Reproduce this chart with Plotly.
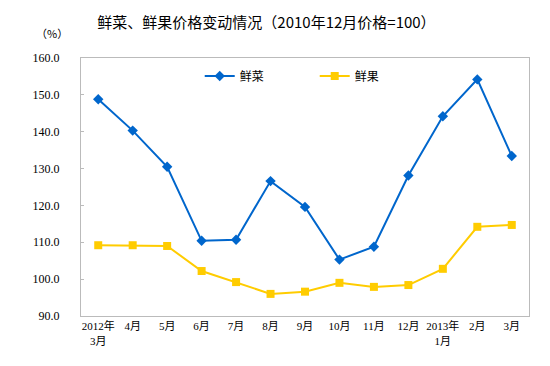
import plotly.graph_objects as go

categories = ["2012年<br>3月", "4月", "5月", "6月", "7月", "8月", "9月", "10月",
              "11月", "12月", "2013年<br>1月", "2月", "3月"]
vegetables = [148.8, 140.3, 130.5, 110.4, 110.7, 126.6, 119.6, 105.3, 108.8,
              128.1, 144.2, 154.2, 133.4]
fruits = [109.2, 109.2, 109.0, 102.2, 99.2, 96.0, 96.6, 99.0, 97.9, 98.4,
          102.8, 114.2, 114.7]
yticks = [90, 100, 110, 120, 130, 140, 150, 160]

font_family = "Liberation Serif, Noto Sans CJK SC, serif"

fig = go.Figure()
fig.add_trace(go.Scatter(
    x=categories, y=vegetables, name="鲜菜", mode="lines+markers",
    line=dict(color="#0066CC", width=2),
    marker=dict(symbol="diamond", size=8, color="#0066CC")))
fig.add_trace(go.Scatter(
    x=categories, y=fruits, name="鲜果", mode="lines+markers",
    line=dict(color="#FFCC00", width=2),
    marker=dict(symbol="square", size=8, color="#FFCC00")))

fig.update_layout(
    width=550, height=366,
    margin=dict(l=73, r=29, t=50, b=58),
    paper_bgcolor="white", plot_bgcolor="white",
    font=dict(family=font_family, size=11, color="black"),
    title=dict(text="鲜菜、鲜果价格变动情况（2010年12月价格=100）",
               x=0.47, xanchor="center", y=0.96, yanchor="middle",
               font=dict(family="Noto Sans CJK SC, sans-serif", size=15, color="black")),
    legend=dict(orientation="h", x=0.265, y=0.93, xanchor="left", yanchor="middle",
                bgcolor="rgba(0,0,0,0)", font=dict(family="Noto Sans CJK SC", size=12),
                entrywidth=70, entrywidthmode="pixels"),
    showlegend=True,
)
fig.update_xaxes(
    type="category", showgrid=False, showline=True, linecolor="#BBBBBB",
    linewidth=1, mirror=True, ticks="", tickfont=dict(size=11),
    range=[-0.5, len(categories) - 0.5])
fig.update_yaxes(
    range=[90, 160], tickvals=yticks, tickformat=".1f", showgrid=False,
    showline=True, linecolor="#BBBBBB", linewidth=1, mirror=True,
    ticks="inside", ticklen=3, tickcolor="#BBBBBB", ticklabelstandoff=18,
    tickfont=dict(family="Liberation Serif, serif", size=12), zeroline=False)

fig.add_annotation(text="（%）", xref="paper", yref="paper", x=-0.065, y=1.095,
                   showarrow=False, xanchor="center", yanchor="middle",
                   font=dict(family="Noto Sans CJK SC", size=11))

fig.write_html("out.html")
